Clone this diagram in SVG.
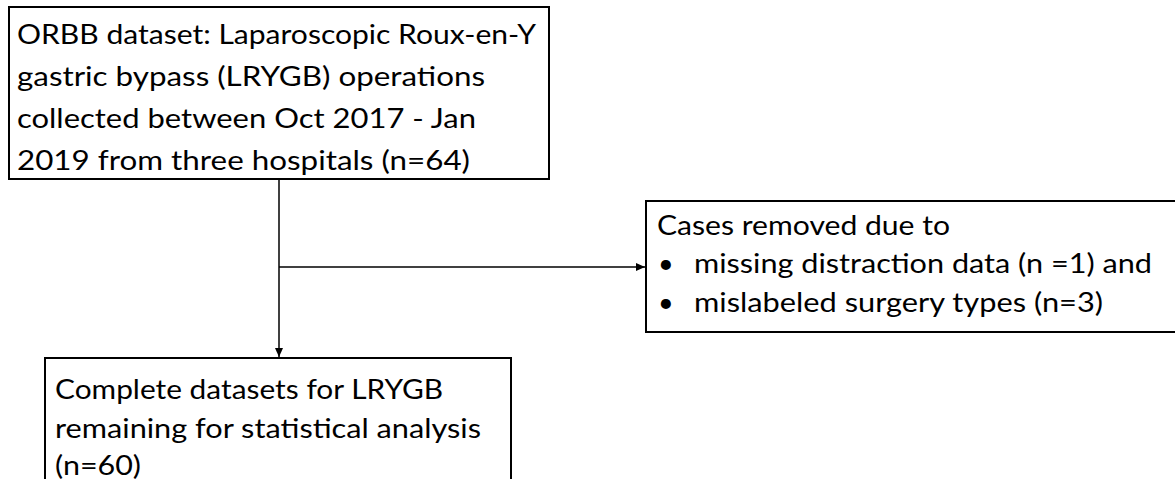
<svg xmlns="http://www.w3.org/2000/svg" width="1175" height="479" viewBox="0 0 1175 479">
<style>
.box{fill:#fff;stroke:#000;stroke-width:2}
.t{font-family:Lato,"Open Sans","Liberation Sans",sans-serif;font-size:27px;fill:#000}
.c{fill:none;stroke:#000;stroke-width:1.5}
</style>
<defs>
<marker id="ah" markerWidth="10" markerHeight="10" refX="9" refY="5" orient="auto" markerUnits="userSpaceOnUse">
<path d="M0,1 L9,5 L0,9 Z" fill="#000"/>
</marker>
</defs>
<g id="connectors">
<path class="c" d="M279,180 V357" marker-end="url(#ah)"/>
<path class="c" d="M279,267 H645" marker-end="url(#ah)"/>
</g>
<g id="source">
<rect class="box" x="9" y="7" width="540" height="172"/>
<text class="t" x="17" y="44" textLength="519" lengthAdjust="spacingAndGlyphs">ORBB dataset: Laparoscopic Roux-en-Y</text>
<text class="t" x="17" y="86" textLength="468" lengthAdjust="spacingAndGlyphs">gastric bypass (LRYGB) operations</text>
<text class="t" x="17" y="128" textLength="459" lengthAdjust="spacingAndGlyphs">collected between Oct 2017 - Jan</text>
<text class="t" x="17" y="170" textLength="453" lengthAdjust="spacingAndGlyphs">2019 from three hospitals (n=64)</text>
</g>
<g id="removed">
<rect class="box" x="646" y="201" width="530" height="131"/>
<text class="t" x="657" y="235" textLength="293" lengthAdjust="spacingAndGlyphs">Cases removed due to</text>
<text class="t" x="658" y="273">•</text>
<text class="t" x="694" y="273" textLength="458" lengthAdjust="spacingAndGlyphs">missing distraction data (n =1) and</text>
<text class="t" x="658" y="312">•</text>
<text class="t" x="694" y="312" textLength="409" lengthAdjust="spacingAndGlyphs">mislabeled surgery types (n=3)</text>
</g>
<g id="remaining">
<rect class="box" x="45" y="358" width="466" height="140"/>
<text class="t" x="55" y="399" textLength="388" lengthAdjust="spacingAndGlyphs">Complete datasets for LRYGB</text>
<text class="t" x="55" y="438" textLength="426" lengthAdjust="spacingAndGlyphs">remaining for statistical analysis</text>
<text class="t" x="55" y="475" textLength="86" lengthAdjust="spacingAndGlyphs">(n=60)</text>
</g>
</svg>
